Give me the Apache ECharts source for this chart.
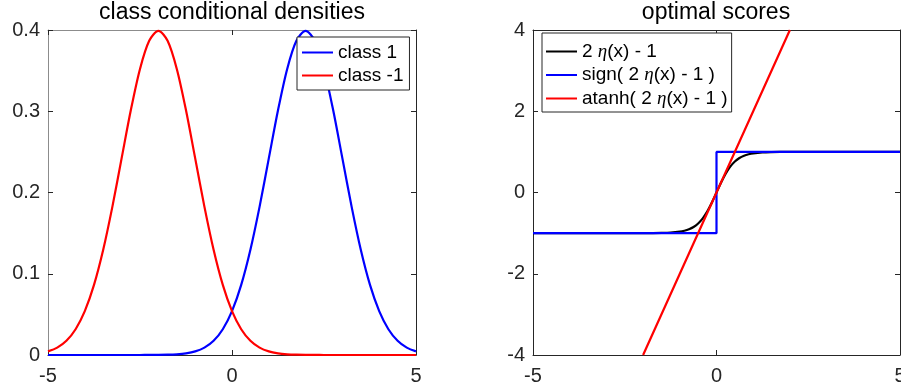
<!DOCTYPE html>
<html>
<head>
<meta charset="utf-8">
<script src="https://cdn.jsdelivr.net/npm/echarts@6/dist/echarts.min.js"></script>
<style>
  html, body { margin: 0; padding: 0; background: #fff; }
  #chart { width: 901px; height: 389px; }
</style>
</head>
<body>
<div id="chart"></div>
<script>
// left panel: class conditional densities, x step 0.25
const densX = [-5, -4.75, -4.5, -4.25, -4, -3.75, -3.5, -3.25, -3, -2.75, -2.5, -2.25, -2, -1.75, -1.5, -1.25, -1, -0.75, -0.5, -0.25,
  0, 0.25, 0.5, 0.75, 1, 1.25, 1.5, 1.75, 2, 2.25, 2.5, 2.75, 3, 3.25, 3.5, 3.75, 4, 4.25, 4.5, 4.75, 5];
const class1 = [0, 0, 0, 0, 0, 0, 0, 0, 0, 0, 0.00002, 0.00005, 0.00013, 0.00035, 0.00087, 0.00203, 0.00443, 0.00909, 0.01753, 0.03174,
  0.05399, 0.08628, 0.12952, 0.18265, 0.24197, 0.30114, 0.35207, 0.38667, 0.39894, 0.38667, 0.35207, 0.30114, 0.24197, 0.18265, 0.12952,
  0.08628, 0.05399, 0.03174, 0.01753, 0.00909, 0.00443];
const classNeg1 = [0.00443, 0.00909, 0.01753, 0.03174, 0.05399, 0.08628, 0.12952, 0.18265, 0.24197, 0.30114, 0.35207, 0.38667, 0.39894,
  0.38667, 0.35207, 0.30114, 0.24197, 0.18265, 0.12952, 0.08628, 0.05399, 0.03174, 0.01753, 0.00909, 0.00443, 0.00203, 0.00087, 0.00035,
  0.00013, 0.00005, 0.00002, 0, 0, 0, 0, 0, 0, 0, 0, 0, 0];
const densTicksY = [0, 0.1, 0.2, 0.3, 0.4];

// right panel: optimal scores
const scoreX = [-5, -3, -2.5, -2, -1.75, -1.5, -1.25, -1, -0.875, -0.75, -0.625, -0.5, -0.375, -0.25, -0.125,
  0, 0.125, 0.25, 0.375, 0.5, 0.625, 0.75, 0.875, 1, 1.25, 1.5, 1.75, 2, 2.5, 3, 5];
const scoreTanh = [-1, -1, -0.9999, -0.9993, -0.9982, -0.9951, -0.9866, -0.964, -0.9414, -0.9051, -0.8483, -0.7616, -0.6351, -0.4621, -0.2449,
  0, 0.2449, 0.4621, 0.6351, 0.7616, 0.8483, 0.9051, 0.9414, 0.964, 0.9866, 0.9951, 0.9982, 0.9993, 0.9999, 1, 1];
const signX = [-5, 0, 0, 5];
const signY = [-1, -1, 1, 1];
const atanhX = [-2, -1, 0, 1, 2];
const atanhY = [-4, -2, 0, 2, 4];

const font = 'Liberation Sans, Arial, Helvetica, sans-serif';
const dark = '#262626';

const pairs = (xs, ys) => xs.map((x, i) => [x, ys[i]]);

function xAxes(gridIndex, pos, lineColor) {
  return {
    type: 'value', gridIndex, position: pos, min: -5, max: 5, interval: 5,
    axisLine: { show: true, onZero: false, lineStyle: { color: lineColor, width: 1 } },
    axisTick: { show: true, inside: true, length: 5, lineStyle: { color: dark } },
    axisLabel: { show: pos === 'bottom', color: dark, fontSize: 20, fontFamily: font, margin: 11 },
    splitLine: { show: false }
  };
}
function yAxes(gridIndex, pos, min, max, interval, lineColor) {
  return {
    type: 'value', gridIndex, position: pos, min, max, interval,
    axisLine: { show: true, onZero: false, lineStyle: { color: lineColor, width: 1 } },
    axisTick: { show: true, inside: true, length: 5, lineStyle: { color: dark } },
    axisLabel: { show: pos === 'left', color: dark, fontSize: 20, fontFamily: font, margin: 8 },
    splitLine: { show: false }
  };
}

function legendFmt(name) {
  const i = name.indexOf('η');
  if (i < 0) return '{n|' + name + '}';
  return '{n|' + name.slice(0, i) + '}{e|η}{n|' + name.slice(i + 1) + '}';
}
const legendText = {
  color: '#000', fontSize: 19, fontFamily: font,
  rich: {
    n: { fontSize: 19, fontFamily: font, color: '#000' },
    e: { fontSize: 19, fontFamily: 'Liberation Serif, DejaVu Serif, serif', fontStyle: 'italic', color: '#000' }
  }
};

function line(name, data, color, xi, yi) {
  return {
    name, type: 'line', data, xAxisIndex: xi, yAxisIndex: yi,
    symbol: 'none', smooth: 0.3,
    lineStyle: { color, width: 2.2 }, itemStyle: { color },
    animation: false
  };
}

const legendBase = {
  orient: 'vertical', icon: 'rect', itemWidth: 31, itemHeight: 2,
  borderColor: dark, borderWidth: 1, backgroundColor: '#fff',
  formatter: legendFmt, textStyle: legendText
};

const chart = echarts.init(document.getElementById('chart'));
chart.setOption({
  backgroundColor: '#fff',
  animation: false,
  title: [
    { text: 'class conditional densities', left: 232, top: 1, textAlign: 'center', padding: 0,
      textStyle: { fontSize: 23, fontWeight: 'normal', fontFamily: font, color: '#000' } },
    { text: 'optimal scores', left: 716, top: 1, textAlign: 'center', padding: 0,
      textStyle: { fontSize: 23, fontWeight: 'normal', fontFamily: font, color: '#000' } }
  ],
  grid: [
    { left: 48, right: 485, top: 30, bottom: 34, outerBoundsMode: 'none', containLabel: false },
    { left: 533, right: 1, top: 30, bottom: 34, outerBoundsMode: 'none', containLabel: false }
  ],
  xAxis: [
    xAxes(0, 'bottom', dark), xAxes(0, 'top', '#8c8c8c'),
    xAxes(1, 'bottom', dark), xAxes(1, 'top', dark)
  ],
  yAxis: [
    yAxes(0, 'left', densTicksY[0], densTicksY[densTicksY.length - 1], 0.1, '#8c8c8c'),
    yAxes(0, 'right', 0, 0.4, 0.1, dark),
    yAxes(1, 'left', -4, 4, 2, dark),
    yAxes(1, 'right', -4, 4, 2, dark)
  ],
  legend: [
    Object.assign({}, legendBase, { data: ['class 1', 'class -1'], left: 297, top: 37,
      padding: [6, 6, 5, 5], itemGap: 4 }),
    Object.assign({}, legendBase, { data: ['2 η(x) - 1', 'sign( 2 η(x) - 1 )', 'atanh( 2 η(x) - 1 )'], left: 542, top: 33,
      padding: [9, 4, 4, 4], itemGap: 4.5 })
  ],
  series: [
    line('class 1', pairs(densX, class1), '#0000ff', 0, 0),
    line('class -1', pairs(densX, classNeg1), '#ff0000', 0, 0),
    line('2 η(x) - 1', pairs(scoreX, scoreTanh), '#000000', 2, 2),
    Object.assign(line('sign( 2 η(x) - 1 )', pairs(signX, signY), '#0000ff', 2, 2), { smooth: false }),
    Object.assign(line('atanh( 2 η(x) - 1 )', pairs(atanhX, atanhY), '#ff0000', 2, 2), { smooth: false })
  ]
});
</script>
</body>
</html>
